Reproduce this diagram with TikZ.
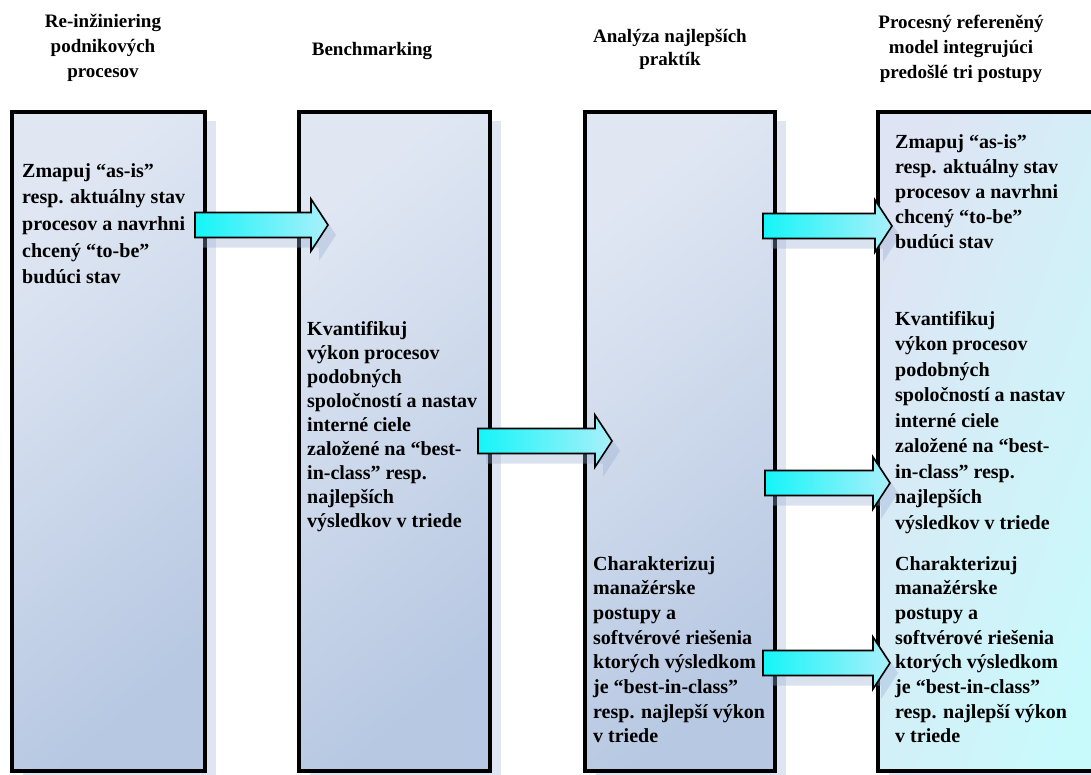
\documentclass[tikz,border=0pt]{standalone}
\usepackage{fontspec}
\setmainfont{Liberation Serif}
\usetikzlibrary{calc,shadows}

\definecolor{boxlight}{RGB}{224,231,243}
\definecolor{boxdark}{RGB}{183,200,226}
\definecolor{lastlight}{RGB}{222,228,243}
\definecolor{lastcyan}{RGB}{200,250,252}
\definecolor{arrowcyan}{RGB}{20,245,248}
\definecolor{arrowpale}{RGB}{170,240,250}
\definecolor{shadowblue}{RGB}{150,170,210}

\tikzset{
  stagebox/.style={rectangle, draw=black, line width=3.5pt, inner sep=0pt, anchor=north west,
    top color=boxlight, bottom color=boxdark, shading angle=40,
    drop shadow={shadow xshift=11pt, shadow yshift=-9pt, fill=shadowblue, opacity=0.3}},
  lastbox/.style={stagebox, left color=lastlight, right color=lastcyan, shading angle=70},
  bigarrow/.style={draw=black, line width=1.6pt, line join=miter,
    left color=arrowcyan, right color=arrowpale,
    drop shadow={shadow xshift=8pt, shadow yshift=-10pt, fill=shadowblue, opacity=0.35}},
  headtext/.style={font=\fontsize{19}{#1}\selectfont\bfseries, align=center, inner sep=0pt, anchor=north},
  boxtext/.style={font=\fontsize{20}{#1}\selectfont\bfseries, align=left, inner sep=0pt, anchor=north west}
}

% fat arrow from tail to tip
\newcommand\fatarrow[2]{%
  \path[bigarrow] ($(#1)+(0,-12.5)$) -- ($(#2)+(-17,-12.5)$) -- ($(#2)+(-17,-26)$) -- (#2)
    -- ($(#2)+(-17,26)$) -- ($(#2)+(-17,12.5)$) -- ($(#1)+(0,12.5)$) -- cycle;}

\begin{document}
\begin{tikzpicture}[x=1pt,y=-1pt]
\useasboundingbox (0,0) rectangle (1091,774);

% columns
\node[stagebox, minimum width=193pt, minimum height=659pt] (reeng) at (10,110) {};
\node[stagebox, minimum width=191pt, minimum height=659pt] (bench) at (297,110) {};
\node[stagebox, minimum width=190pt, minimum height=659pt] (best) at (583,110) {};
\node[lastbox, minimum width=230pt, minimum height=659pt] (model) at (876,110) {};

% headings
\node[headtext=25] (hReeng) at (103,14) {Re-inžiniering\\podnikových\\procesov};
\node[headtext=25] (hBench) at (372,42) {Benchmarking};
\node[headtext=23] (hBest) at (670,29) {Analýza najlepších\\praktík};
\node[headtext=25] (hModel) at (961,15) {Procesný refereněný\\model integrujúci\\predošlé tri postupy};

% arrows
\coordinate (zmapTail) at (195,225);
\coordinate (zmapTip) at (328,225);
\coordinate (benchTail) at (478,441);
\coordinate (benchTip) at (612,441);
\coordinate (toBeTail) at (763,226);
\coordinate (toBeTip) at (892,226);
\coordinate (kvantTail) at (765,483);
\coordinate (kvantTip) at (890,483);
\coordinate (charTail) at (763,663);
\coordinate (charTip) at (890,663);
\fatarrow{zmapTail}{zmapTip}
\fatarrow{benchTail}{benchTip}
\fatarrow{toBeTail}{toBeTip}
\fatarrow{kvantTail}{kvantTip}
\fatarrow{charTail}{charTip}

% texts
\node[boxtext=26.7] (tZmap) at (22,163)
  {Zmapuj “as-is”\\resp. aktuálny stav\\procesov a navrhni\\chcený “to-be”\\budúci stav};
\node[boxtext=24] (tKvant) at (307,321)
  {Kvantifikuj\\výkon procesov\\podobných\\spoločností a nastav\\interné ciele\\založené na “best-\\in-class” resp.\\najlepších\\výsledkov v triede};
\node[boxtext=24.7] (tChar) at (593,556)
  {Charakterizuj\\manažérske\\postupy a\\softvérové riešenia\\ktorých výsledkom\\je “best-in-class”\\resp. najlepší výkon\\v triede};
\node[boxtext=25] (mZmap) at (895,134)
  {Zmapuj “as-is”\\resp. aktuálny stav\\procesov a navrhni\\chcený “to-be”\\budúci stav};
\node[boxtext=25.5] (mKvant) at (895,311)
  {Kvantifikuj\\výkon procesov\\podobných\\spoločností a nastav\\interné ciele\\založené na “best-\\in-class” resp.\\najlepších\\výsledkov v triede};
\node[boxtext=24.7] (mChar) at (895,556)
  {Charakterizuj\\manažérske\\postupy a\\softvérové riešenia\\ktorých výsledkom\\je “best-in-class”\\resp. najlepší výkon\\v triede};
\end{tikzpicture}
\end{document}
